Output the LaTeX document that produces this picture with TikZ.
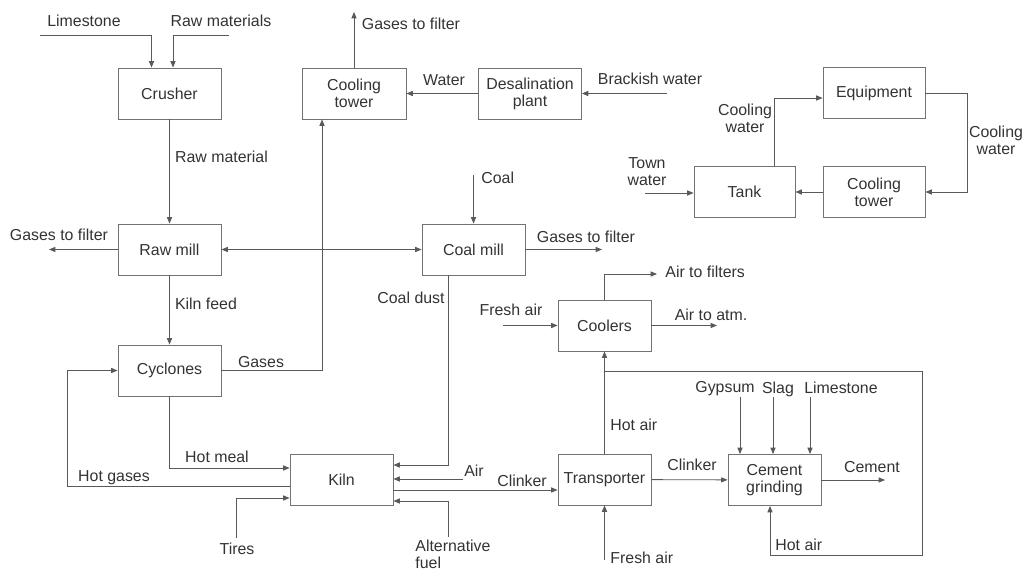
\documentclass[tikz,border=0pt]{standalone}
\usepackage{fontspec}
\setmainfont{Liberation Sans}
\usetikzlibrary{arrows.meta,calc}

\begin{document}
\begin{tikzpicture}[x=0.025cm, y=-0.025cm, line width=0.6pt,
                    font=\fontsize{11.3}{12}\selectfont,
                    stage/.style={rectangle,draw=black!55,text=black!80,align=center,inner sep=0pt,
                                  minimum width=2.575cm,minimum height=1.275cm},
                    narrow/.style={stage,minimum width=2.325cm},
                    tag/.style={text=black!80,inner sep=0pt,align=center},
                    feed/.style={draw=black!65,-{Triangle[length=4.5pt,width=3.6pt]}},
                    feedtwo/.style={draw=black!65,{Triangle[length=4.5pt,width=3.6pt]}-{Triangle[length=4.5pt,width=3.6pt]}},
                    wire/.style={draw=black!65}]

  \useasboundingbox (0,0) rectangle (1027,570);

  % main line
  \node[stage] (crusher) at (169.5,93.5) {Crusher};
  \node[stage] (rawmill) at (169.5,249.5) {Raw mill};
  \node[stage] (cyclones) at (169.5,370.5) {Cyclones};
  \node[stage,minimum width=2.6cm] (ctower) at (354,93.5) {Cooling\\tower};
  \node[stage] (desal) at (530,93.5) {Desalination\\plant};
  \node[stage] (coalmill) at (473.5,249.5) {Coal mill};
  \node[stage] (kiln) at (341.5,480) {Kiln};
  \node[narrow] (transp) at (604.5,479.5) {Transporter};
  \node[narrow] (coolers) at (604.5,325.5) {Coolers};
  \node[narrow] (cgrind) at (774.5,480) {Cement\\grinding};

  % water loop
  \node[stage,minimum width=2.55cm] (equip) at (874,93) {Equipment};
  \node[stage,minimum width=2.525cm] (tank) at (744.5,192) {Tank};
  \node[stage,minimum width=2.55cm] (ctowertwo) at (874,192) {Cooling\\tower};

  % free ends
  \coordinate (limein) at (40,35);
  \coordinate (rawin) at (229,35);
  \coordinate (rmgas) at (49,249.5);
  \coordinate (ctgas) at (354,12);
  \coordinate (brack) at (667,93.5);
  \coordinate (coalin) at (473.5,175);
  \coordinate (cmgas) at (602,249.5);
  \coordinate (hotgas) at (67,486);
  \coordinate (tires) at (236,538);
  \coordinate (airin) at (463,479);
  \coordinate (altfuel) at (448,537);
  \coordinate (kout) at (393,490);
  \coordinate (freshtr) at (604.5,560);
  \coordinate (hotjct) at (604.5,371);
  \coordinate (hotcorner) at (922,555);
  \coordinate (airfilt) at (657,274);
  \coordinate (freshco) at (503,325.5);
  \coordinate (airatm) at (717,325.5);
  \coordinate (gyp) at (740,397);
  \coordinate (slag) at (773,397);
  \coordinate (lime) at (810,397);
  \coordinate (cement) at (885,480);
  \coordinate (town) at (645,193);
  \coordinate (cwbend) at (967,192);

  % connectors
  \draw[feed] (limein) -| ($(crusher.north)+(-18,0)$);
  \draw[feed] (rawin) -| ($(crusher.north)+(3.5,0)$);
  \draw[feed] (crusher) -- (rawmill);
  \draw[feed] (rawmill) -- (rmgas);
  \draw[feedtwo] (rawmill) -- (coalmill);
  \draw[feed] (rawmill) -- (cyclones);
  \draw[feed] (cyclones.east) -| ($(ctower.south)+(-32,0)$);
  \draw[feed] (ctower.north) -- (ctgas);
  \draw[feed] (desal) -- (ctower);
  \draw[feed] (brack) -- (desal);
  \draw[feed] (coalin) -- (coalmill);
  \draw[feed] (coalmill) -- (cmgas);
  \draw[feed] ($(coalmill.south)+(-25.5,0)$) |- ($(kiln.east)+(0,-15)$);
  \draw[feed] (cyclones.south) |- ($(kiln.west)+(0,-12)$);
  \draw[feed] (kiln.west |- hotgas) -- (hotgas) |- (cyclones.west);
  \draw[feed] (tires) |- ($(kiln.west)+(0,18)$);
  \draw[feed] (airin) -- (airin -| kiln.east);
  \draw[feed] (altfuel) |- ($(kiln.east)+(0,21)$);
  \draw[feed] (kout) -- (kout -| transp.west);
  \draw[feed] (freshtr) -- (transp);
  \draw[feed] (transp) -- (coolers);
  \draw[feed] (hotjct) -| (hotcorner) -| ($(cgrind.south)+(-4.5,0)$);
  \draw[feed] (coolers.north) |- (airfilt);
  \draw[feed] (freshco) -- (coolers);
  \draw[feed] (coolers) -- (airatm);
  \draw[feed] (transp) -- (cgrind);
  \draw[feed] (gyp) -- (gyp |- cgrind.north);
  \draw[feed] (slag) -- (slag |- cgrind.north);
  \draw[feed] (lime) -- (lime |- cgrind.north);
  \draw[feed] (cgrind) -- (cement);
  \draw[feed] (town) -- (town -| tank.west);
  \draw[feed] ($(tank.north)+(29.5,0)$) |- ($(equip.west)+(0,5)$);
  \draw[feed] (equip.east) -| (cwbend) -- (ctowertwo.east);
  \draw[feed] (ctowertwo) -- (tank);

  % labels
  \node[tag] (tlime) at (84,21) {Limestone};
  \node[tag] (traw) at (221,21) {Raw materials};
  \node[tag] (trawmat) at (221.5,157) {Raw material};
  \node[tag] (trmgas) at (59,235) {Gases to filter};
  \node[tag] (tkfeed) at (206,304) {Kiln feed};
  \node[tag] (tgases) at (261,362) {Gases};
  \node[tag] (tctgas) at (411,24) {Gases to filter};
  \node[tag] (twater) at (444,80) {Water};
  \node[tag] (tbrack) at (650,79) {Brackish water};
  \node[tag,anchor=west] (tcoal) at (481,178) {Coal};
  \node[tag] (tcmgas) at (586,237) {Gases to filter};
  \node[tag] (tcdust) at (411,298) {Coal dust};
  \node[tag] (thmeal) at (217,457) {Hot meal};
  \node[tag] (thgas) at (114,478) {Hot gases};
  \node[tag] (ttires) at (237,549) {Tires};
  \node[tag] (tair) at (474,471) {Air};
  \node[tag,align=left,anchor=west] (taltf) at (415,554) {Alternative\\fuel};
  \node[tag] (tclink) at (522,481) {Clinker};
  \node[tag,anchor=west] (tfreshtr) at (610,558) {Fresh air};
  \node[tag,anchor=west] (thotair) at (610,425) {Hot air};
  \node[tag,anchor=west] (thotcg) at (775,545) {Hot air};
  \node[tag,anchor=west] (tairfilt) at (665,272) {Air to filters};
  \node[tag] (tfreshco) at (511,310) {Fresh air};
  \node[tag] (tairatm) at (711,315) {Air to atm.};
  \node[tag] (tclinktwo) at (692,465) {Clinker};
  \node[tag] (tgyp) at (725,389) {Gypsum};
  \node[tag] (tslag) at (778,389) {Slag};
  \node[tag] (tlimetwo) at (841,388) {Limestone};
  \node[tag] (tcement) at (872,467) {Cement};
  \node[tag] (ttown) at (647,172) {Town\\water};
  \node[tag] (tcwleft) at (745,118) {Cooling\\water};
  \node[tag] (tcwright) at (996,140) {Cooling\\water};

\end{tikzpicture}
\end{document}
